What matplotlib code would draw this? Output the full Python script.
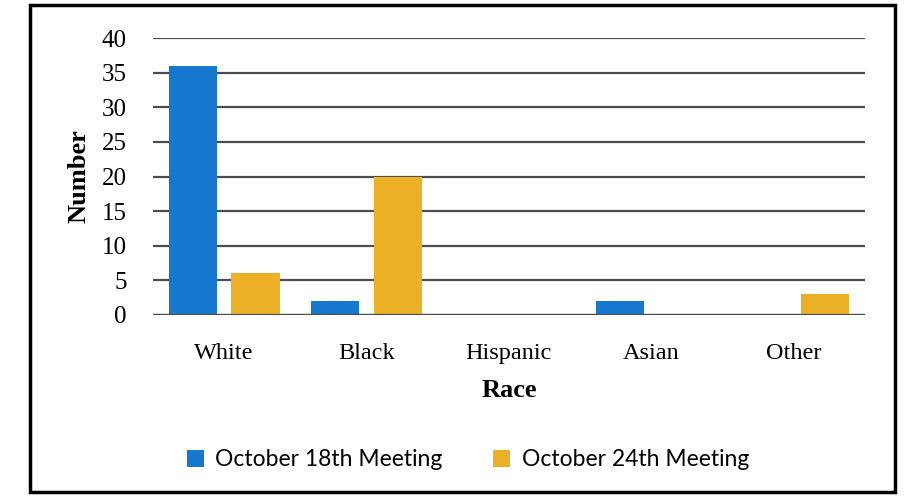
import numpy as np
import matplotlib.pyplot as plt
from matplotlib.patches import Rectangle

races = ['White', 'Black', 'Hispanic', 'Asian', 'Other']
oct18 = [36, 2, 0, 2, 0]
oct24 = [6, 20, 0, 0, 3]
yticks = [0, 5, 10, 15, 20, 25, 30, 35, 40]

blue = '#1679cf'
orange = '#ebb026'
serif = ['Liberation Serif', 'DejaVu Serif']

fig = plt.figure(figsize=(9.08, 4.97), dpi=100)
ax = fig.add_axes([0.1685, 0.3662, 0.784, 0.5573])

x = np.arange(len(races))
width = 0.34
ax.bar(x - 0.22, oct18, width, color=blue, label='October 18th Meeting', zorder=3)
ax.bar(x + 0.22, oct24, width, color=orange, label='October 24th Meeting', zorder=3)

ax.set_xlim(-0.5, len(races) - 0.5)
ax.set_ylim(0, 40)
ax.set_yticks(yticks)
ax.yaxis.grid(True, color='#4d4d4d', linewidth=1.6, zorder=1)
for s in ax.spines.values():
    s.set_visible(False)
ax.axhline(0, color='#4d4d4d', linewidth=1.6, zorder=4)

ax.set_xticks(x)
ax.set_xticklabels(races, family=serif, fontsize=17.5)
for lbl in ax.get_yticklabels():
    lbl.set_family(serif)
    lbl.set_fontsize(18)
ax.tick_params(axis='y', length=0, pad=19)
ax.tick_params(axis='x', length=0, pad=20)

ax.set_xlabel('Race', family=serif, fontsize=19, fontweight='bold', labelpad=11)
ax.set_ylabel('Number', family=serif, fontsize=19, fontweight='bold', labelpad=8)

fig.legend(loc='center', bbox_to_anchor=(468 / 908, 1 - 460 / 497), ncol=2,
           frameon=False, prop={'family': ['Lato', 'DejaVu Sans'], 'size': 16.5},
           handlelength=0.75, handleheight=0.75, handletextpad=0.5, columnspacing=2.2)

# frame around the whole chart
fig.patches.append(Rectangle((30 / 908, 5 / 497), 865 / 908, 487 / 497,
                             transform=fig.transFigure, fill=False,
                             edgecolor='black', linewidth=2.5))

fig.savefig('out.png', dpi=100)
